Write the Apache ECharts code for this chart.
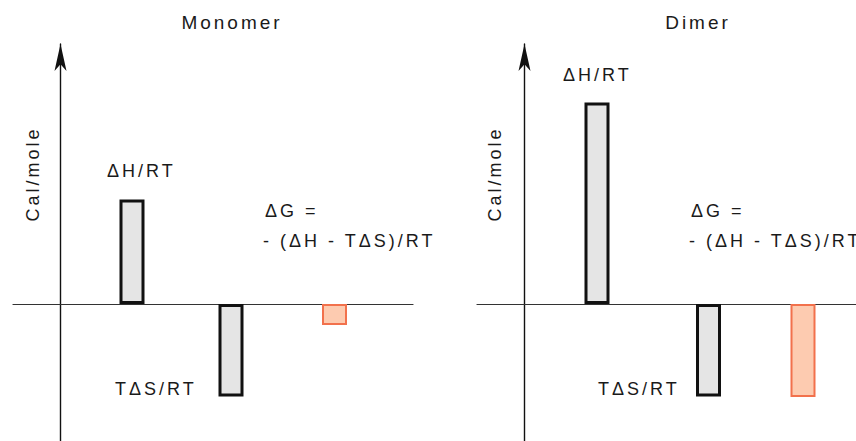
<!DOCTYPE html>
<html>
<head>
<meta charset="utf-8">
<script src="https://cdn.jsdelivr.net/npm/echarts@6/dist/echarts.min.js"></script>
<style>
  html, body { margin: 0; padding: 0; background: #fff; }
  #chart { width: 856px; height: 441px; }
  /* the source figure uses tracked-out lettering */
  #chart text { letter-spacing: 3px; }
</style>
</head>
<body>
<div id="chart"></div>
<script>
// terms shown in each panel
const terms = ['ΔH/RT', 'TΔS/RT', 'ΔG']

// where each bar sits along the (unlabelled) x axis, in axis units
const monomerPos = [1.43, 3.41, 5.48]
const dimerPos = [1.45, 3.68, 5.57]

// bar heights, arbitrary units (Cal/mole)
const monomerVals = [2.09, -1.85, -0.42]
const dimerVals = [4.03, -1.85, -1.86]

const panelTitles = ['Monomer', 'Dimer']
const yName = 'Cal/mole'
const dgLine1 = 'ΔG ='
const dgLine2 = '- (ΔH - TΔS)/RT'

const FONT = '"Liberation Sans", Arial, Helvetica, sans-serif'
const INK = '#1a1a1a'

const grayStyle = { color: '#e5e5e5', borderColor: '#111', borderWidth: 3 }
const dgStyle = { color: '#fdcbb0', borderColor: '#f2714c', borderWidth: 2 }

const toData = (pos, vals) => pos.map((x, i) => ({
  name: terms[i],
  value: [x, vals[i]],
  itemStyle: i === 2 ? dgStyle : grayStyle
}))

const xAxisBase = {
  type: 'value',
  min: -0.95,
  axisLine: { onZero: true, lineStyle: { color: '#333', width: 1.2 } },
  axisTick: { show: false },
  axisLabel: { show: false },
  splitLine: { show: false }
}

const yAxisBase = {
  type: 'value',
  min: -2.74,
  max: 5.2,
  axisLine: {
    show: true,
    onZero: true,
    symbol: ['none', 'arrow'],
    symbolSize: [9, 27],
    lineStyle: { color: '#111', width: 1.4 }
  },
  axisTick: { show: false },
  axisLabel: { show: false },
  splitLine: { show: false }
}

const txt = (text, x, y, opts = {}) => ({
  type: 'text',
  x, y,
  rotation: opts.rotation || 0,
  style: {
    text,
    fill: INK,
    font: `${opts.size || 18}px ${FONT}`,
    align: opts.align || 'left',
    verticalAlign: 'middle'
  }
})

const barSeries = (idx, pos, vals) => ({
  type: 'bar',
  xAxisIndex: idx,
  yAxisIndex: idx,
  barWidth: 25,
  barMinWidth: 25,
  barMaxWidth: 25,
  data: toData(pos, vals)
})

const chart = echarts.init(document.getElementById('chart'), null, { renderer: 'svg' })

const option = {
  animation: false,
  backgroundColor: '#fff',
  grid: [
    { left: 13, top: 44, width: 400, height: 397 },
    { left: 477, top: 44, width: 379, height: 397 }
  ],
  xAxis: [
    { ...xAxisBase, max: 7.05, gridIndex: 0 },
    { ...xAxisBase, max: 6.63, gridIndex: 1 }
  ],
  yAxis: [
    { ...yAxisBase, gridIndex: 0 },
    { ...yAxisBase, gridIndex: 1 }
  ],
  series: [
    barSeries(0, monomerPos, monomerVals),
    barSeries(1, dimerPos, dimerVals)
  ],
  graphic: [
    // Monomer panel
    txt(panelTitles[0], 232, 22, { align: 'center', size: 19 }),
    txt(yName, 33, 174, { align: 'center', rotation: Math.PI / 2 }),
    txt(terms[0], 107, 171),
    txt(dgLine1, 265, 211),
    txt(dgLine2, 263, 241),
    txt(terms[1], 115, 389),
    // Dimer panel
    txt(panelTitles[1], 698, 22, { align: 'center', size: 19 }),
    txt(yName, 495, 174, { align: 'center', rotation: Math.PI / 2 }),
    txt(terms[0], 563, 75),
    txt(dgLine1, 691, 211),
    txt(dgLine2, 689, 241),
    txt(terms[1], 598, 389)
  ]
}

chart.setOption(option)
</script>
</body>
</html>
